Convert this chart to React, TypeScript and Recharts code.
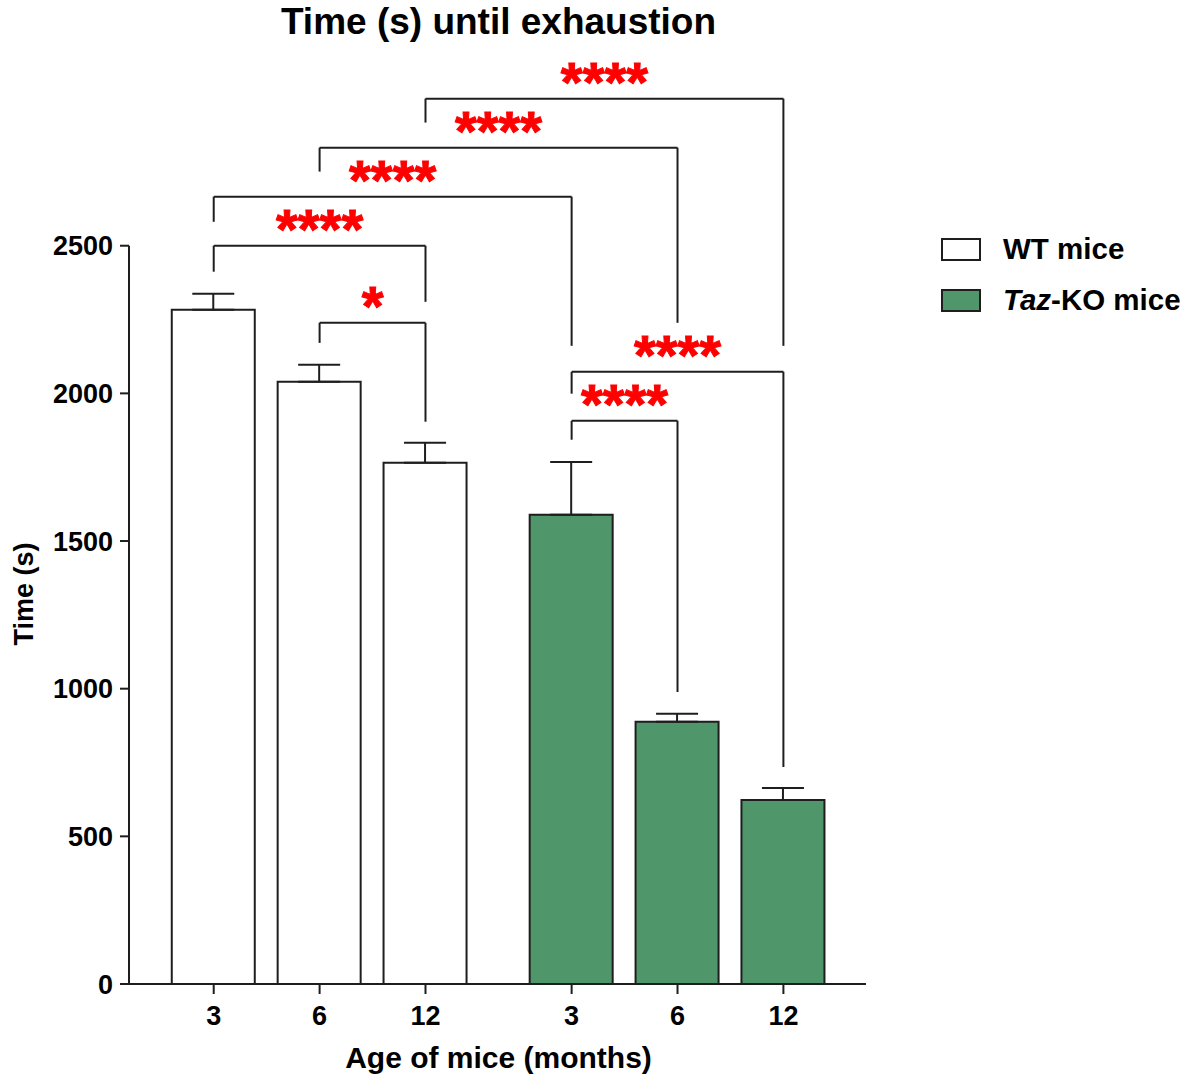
import { Bar, BarChart, Cell, ErrorBar, ReferenceLine, XAxis, YAxis } from 'recharts'

// mean time to exhaustion (s) and SEM, per age group
const ages = ['3', '6', '12']
const wtTime = [2283, 2039, 1765]
const wtSem = [54, 58, 68]
const koTime = [1589, 888, 623]
const koSem = [179, 27, 41]
const yTicks = [0, 500, 1000, 1500, 2000, 2500]

// pairwise comparisons: bar indexes (0-2 WT, 3-5 KO), bracket height and leg ends (s)
const comparisons = [
  { from: 0, to: 2, label: '****', y: 2500, yFrom: 2412, yTo: 2310 },
  { from: 1, to: 2, label: '*', y: 2239, yFrom: 2171, yTo: 1904 },
  { from: 0, to: 3, label: '****', y: 2666, yFrom: 2581, yTo: 2161 },
  { from: 1, to: 4, label: '****', y: 2832, yFrom: 2751, yTo: 2239 },
  { from: 2, to: 5, label: '****', y: 2998, yFrom: 2917, yTo: 2161 },
  { from: 3, to: 5, label: '****', y: 2073, yFrom: 1999, yTo: 735 },
  { from: 3, to: 4, label: '****', y: 1907, yFrom: 1843, yTo: 989 },
]

const GROUP_GAP = 0.38
const X_MIN = -0.8
const X_MAX = 6.16
const KO_GREEN = '#4F966A'
const INK = '#1e1e1e'
const FONT = '"Liberation Sans", Arial, Helvetica, sans-serif'

const xPos = (i: number) => i + (i >= 3 ? GROUP_GAP : 0)

const rows = [
  ...ages.map((age, i) => ({ age, ko: false, x: xPos(i), time: wtTime[i], err: [0, wtSem[i]] })),
  ...ages.map((age, i) => ({ age, ko: true, x: xPos(i + 3), time: koTime[i], err: [0, koSem[i]] })),
]

function StarLabel(props: any) {
  const { viewBox, text } = props
  if (!viewBox) return null
  return (
    <text
      x={viewBox.x + viewBox.width / 2}
      y={viewBox.y + 2}
      textAnchor="middle"
      fill="#FF0000"
      stroke="#FF0000"
      strokeWidth={1}
      fontFamily={FONT}
      fontWeight="bold"
      fontSize={56}
    >
      {text}
    </text>
  )
}

function LegendBox({ fill, top, children }: { fill: string; top: number; children: any }) {
  return (
    <div style={{ position: 'absolute', left: 941, top, display: 'flex', alignItems: 'center' }}>
      <div style={{ width: 36, height: 19, border: `2px solid ${INK}`, background: fill }} />
      <div style={{ marginLeft: 22, fontSize: 29.5, fontWeight: 'bold', fontFamily: FONT, color: '#000' }}>{children}</div>
    </div>
  )
}

export default function App() {
  return (
    <div style={{ position: 'absolute', left: 0, top: 0, width: 1193, height: 1078, background: '#fff', fontFamily: FONT }}>
      <div
        style={{
          position: 'absolute',
          left: 0,
          width: 997,
          top: 1,
          textAlign: 'center',
          fontSize: 37,
          fontWeight: 'bold',
          color: '#000',
        }}
      >
        Time (s) until exhaustion
      </div>
      <div
        style={{
          position: 'absolute',
          left: 24,
          top: 594,
          transform: 'translate(-50%, -50%) rotate(-90deg)',
          whiteSpace: 'nowrap',
          fontSize: 27,
          fontWeight: 'bold',
          color: '#000',
        }}
      >
        Time (s)
      </div>
      <div
        style={{
          position: 'absolute',
          left: 0,
          width: 997,
          top: 1041,
          textAlign: 'center',
          fontSize: 30,
          fontWeight: 'bold',
          color: '#000',
        }}
      >
        Age of mice (months)
      </div>

      <LegendBox fill="#ffffff" top={232}>WT mice</LegendBox>
      <LegendBox fill={KO_GREEN} top={283}>
        <i>Taz</i>-KO mice
      </LegendBox>

      <div style={{ position: 'absolute', left: 0, top: 0 }}>
        <BarChart width={1193} height={1078} data={rows} margin={{ top: 39, right: 327, bottom: 34, left: 0 }}>
          <XAxis
            dataKey="x"
            type="number"
            domain={[X_MIN, X_MAX]}
            allowDataOverflow
            ticks={rows.map((r) => r.x)}
            tickFormatter={(v: number) => rows.find((r) => Math.abs(r.x - v) < 0.01)?.age ?? ''}
            height={60}
            tickSize={10}
            tickMargin={12}
            axisLine={{ stroke: INK, strokeWidth: 2 }}
            tickLine={{ stroke: INK, strokeWidth: 2 }}
            tick={{ fill: '#000', fontSize: 27, fontWeight: 'bold', fontFamily: FONT }}
          />
          <YAxis
            type="number"
            domain={[0, 3200]}
            ticks={yTicks}
            width={129}
            axisLine={false}
            tickSize={9}
            tickMargin={7}
            tickLine={{ stroke: INK, strokeWidth: 2 }}
            tick={{ fill: '#000', fontSize: 27, fontWeight: 'bold', fontFamily: FONT }}
          />
          <ReferenceLine
            segment={[
              { x: X_MIN, y: 0 },
              { x: X_MIN, y: 2500 },
            ]}
            stroke={INK}
            strokeWidth={2}
          />
          <Bar dataKey="time" barSize={83} stroke={INK} strokeWidth={2} isAnimationActive={false}>
            {rows.map((r, i) => (
              <Cell key={i} fill={r.ko ? KO_GREEN : '#ffffff'} />
            ))}
            <ErrorBar dataKey="err" direction="y" width={21} stroke={INK} strokeWidth={2} isAnimationActive={false} />
          </Bar>
          {comparisons.map((c, i) => {
            const x1 = xPos(c.from)
            const x2 = xPos(c.to)
            return [
              <ReferenceLine
                key={`h${i}`}
                segment={[
                  { x: x1, y: c.y },
                  { x: x2, y: c.y },
                ]}
                stroke={INK}
                strokeWidth={2}
                label={<StarLabel text={c.label} />}
              />,
              <ReferenceLine
                key={`l${i}`}
                segment={[
                  { x: x1, y: c.y },
                  { x: x1, y: c.yFrom },
                ]}
                stroke={INK}
                strokeWidth={2}
              />,
              <ReferenceLine
                key={`r${i}`}
                segment={[
                  { x: x2, y: c.y },
                  { x: x2, y: c.yTo },
                ]}
                stroke={INK}
                strokeWidth={2}
              />,
            ]
          })}
        </BarChart>
      </div>
    </div>
  )
}
